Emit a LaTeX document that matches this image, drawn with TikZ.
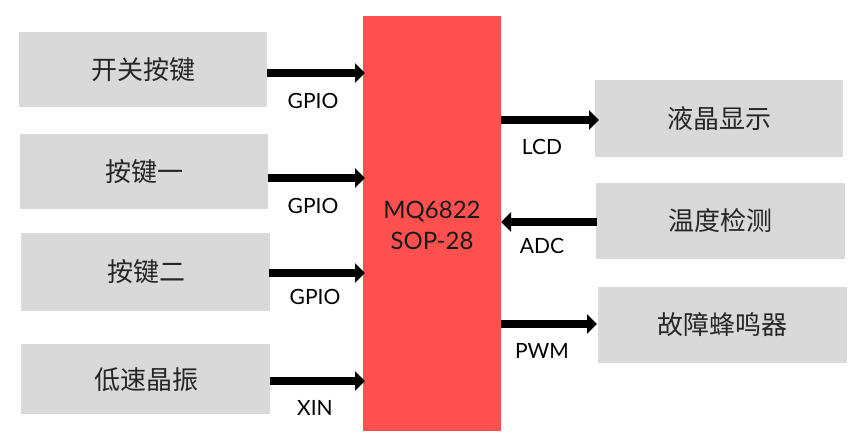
\documentclass[tikz,border=0pt]{standalone}
\usepackage{fontspec}
\setmainfont{Lato}
\newfontfamily\cjk{Noto Sans CJK SC}
\usetikzlibrary{arrows.meta}
\definecolor{boxgray}{HTML}{D9D9D9}
\definecolor{chipred}{HTML}{FF5050}
\tikzset{
  cjklbl/.style={font=\cjk\fontsize{26}{30}\selectfont, text=black!85},
  sig/.style={font=\fontsize{21}{24}\selectfont, text=black},
  bus/.style={line width=8pt, -{Triangle[length=10pt,width=19pt]}},
}
\begin{document}
\begin{tikzpicture}[x=1pt,y=-1pt]
\useasboundingbox (0,0) rectangle (865,444);
% chip
\fill[chipred] (363,16) rectangle (501,431);
\node[font=\fontsize{24}{31}\selectfont, align=center, text=black!90] (chip) at (432,225) {MQ6822\\SOP-28};
\coordinate (chipL1) at (365,73);
\coordinate (chipL2) at (365,178);
\coordinate (chipL3) at (365,273);
\coordinate (chipL4) at (365,381);
\coordinate (chipR1) at (501,120);
\coordinate (chipR2) at (501,222);
\coordinate (chipR3) at (501,324);
% left boxes
\fill[boxgray] (19,32) rectangle (267,107);
\fill[boxgray] (20,134) rectangle (268,209);
\fill[boxgray] (21,233) rectangle (270,311);
\fill[boxgray] (21,344) rectangle (270,414);
\node[cjklbl] (b1) at (143,70) {开关按键};
\node[cjklbl] (b2) at (144,172) {按键一};
\node[cjklbl] (b3) at (146,272) {按键二};
\node[cjklbl] (b4) at (146,380) {低速晶振};
\coordinate (b1R) at (267,73);
\coordinate (b2R) at (268,178);
\coordinate (b3R) at (269,273);
\coordinate (b4R) at (270,381);
% right boxes
\fill[boxgray] (595,80) rectangle (843,157);
\fill[boxgray] (596,183) rectangle (845,259);
\fill[boxgray] (598,287) rectangle (847,363);
\node[cjklbl] (r1) at (719,119) {液晶显示};
\node[cjklbl] (r2) at (720,221) {温度检测};
\node[cjklbl] (r3) at (722,325) {故障蜂鸣器};
\coordinate (r1L) at (599,120);
\coordinate (r2L) at (597,222);
\coordinate (r3L) at (597,324);
% arrows
\draw[bus] (b1R) -- (chipL1);
\draw[bus] (b2R) -- (chipL2);
\draw[bus] (b3R) -- (chipL3);
\draw[bus] (b4R) -- (chipL4);
\draw[bus] (chipR1) -- (r1L);
\draw[bus] (r2L) -- (chipR2);
\draw[bus] (chipR3) -- (r3L);
% labels
\node[sig] (g1) at (313,101) {GPIO};
\node[sig] (g2) at (313,206) {GPIO};
\node[sig] (g3) at (315,297) {GPIO};
\node[sig] (x1) at (315,408) {XIN};
\node[sig] (l1) at (542,147) {LCD};
\node[sig] (a1) at (542,246) {ADC};
\node[sig] (p1) at (542,351) {PWM};
\end{tikzpicture}
\end{document}
